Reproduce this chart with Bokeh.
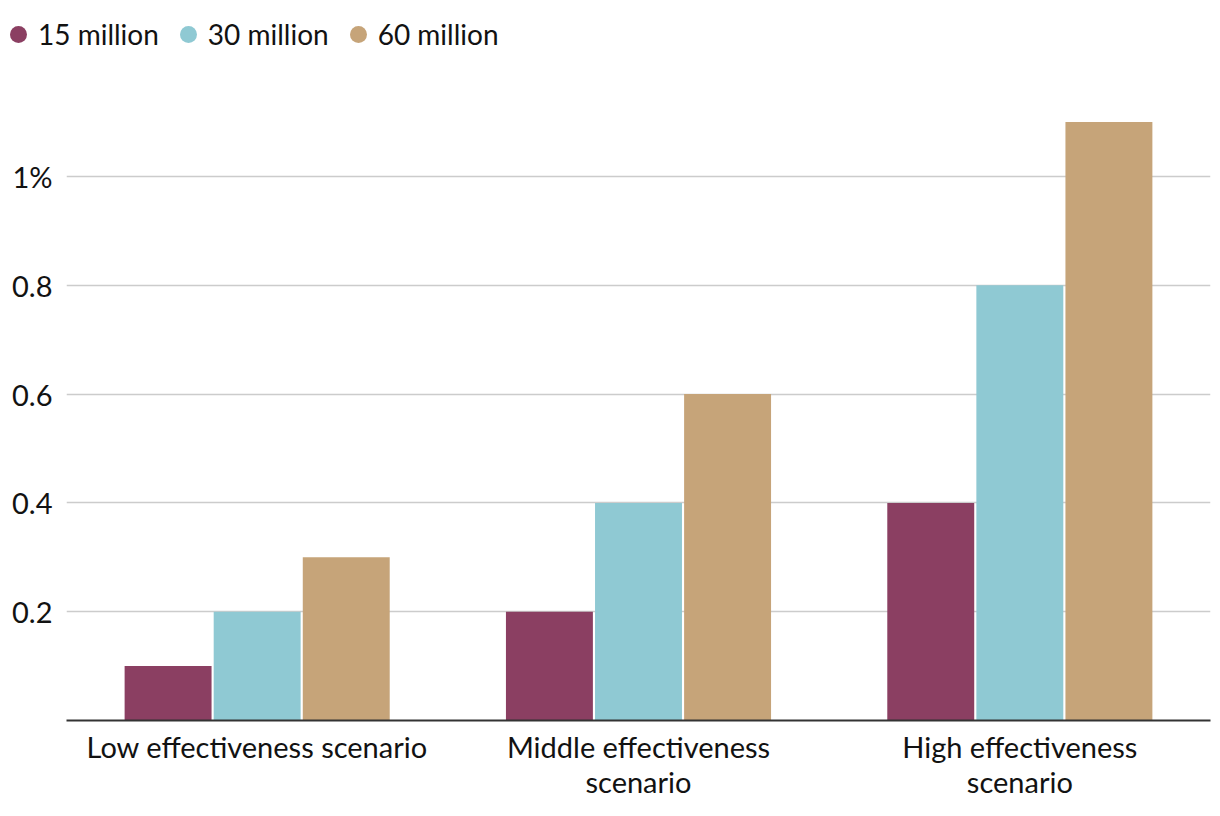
from bokeh.plotting import figure
from bokeh.models import Range1d, FixedTicker, ColumnDataSource, FactorRange, Div
from bokeh.transform import dodge
from bokeh.layouts import column
from bokeh.embed import file_html
from bokeh.resources import INLINE

# ---- data ----
scenarios = ["Low effectiveness scenario",
             "Middle effectiveness\nscenario",
             "High effectiveness\nscenario"]
series = ["15 million", "30 million", "60 million"]
v15 = [0.1, 0.2, 0.4]
v30 = [0.2, 0.4, 0.8]
v60 = [0.3, 0.6, 1.1]
y_ticks = [0.2, 0.4, 0.6, 0.8, 1.0]
y_tick_labels = ["0.2", "0.4", "0.6", "0.8", "1%"]

# ---- style ----
colors = ["#8b3f62", "#8fc9d3", "#c6a479"]
FONT = "Lato"
FSIZE = "29px"
TXT = "#121212"

src = ColumnDataSource(dict(scenario=scenarios, v15=v15, v30=v30, v60=v60))

p = figure(x_range=FactorRange(*scenarios), y_range=Range1d(0, 1.1397),
           width=1212, height=740, output_backend="svg", toolbar_location=None,
           min_border_left=66, min_border_right=2, min_border_top=32,
           min_border_bottom=88)
p.outline_line_color = None
p.background_fill_color = "white"
p.border_fill_color = "white"

bar_w = 0.228
step = 0.2336
for off, col, c in zip([-step, 0, step], ["v15", "v30", "v60"], colors):
    p.vbar(x=dodge("scenario", off, range=p.x_range), top=col, width=bar_w,
           source=src, fill_color=c, line_color=None)

p.xgrid.grid_line_color = None
p.ygrid.ticker = FixedTicker(ticks=y_ticks)
p.ygrid.grid_line_color = "#cccccc"
p.ygrid.grid_line_width = 1.5

p.yaxis.ticker = FixedTicker(ticks=y_ticks)
p.yaxis.major_label_overrides = {t: l for t, l in zip(y_ticks, y_tick_labels)}
p.yaxis.axis_line_color = None
p.yaxis.major_tick_line_color = None
p.yaxis.minor_tick_line_color = None
p.yaxis.major_tick_out = 0
p.yaxis.major_label_standoff = 14
p.yaxis.major_label_text_font = FONT
p.yaxis.major_label_text_font_size = FSIZE
p.yaxis.major_label_text_color = TXT

p.xaxis.axis_line_color = "#333333"
p.xaxis.axis_line_width = 2
p.xaxis.major_tick_line_color = None
p.xaxis.major_tick_out = 0
p.xaxis.major_label_standoff = 8
p.xaxis.major_label_text_font = FONT
p.xaxis.major_label_text_font_size = FSIZE
p.xaxis.major_label_text_color = TXT
p.xaxis.major_label_text_line_height = 1.0

# ---- legend strip above the chart ----
parts = []
for name, c in zip(series, colors):
    parts.append(
        f'<span style="display:inline-block;flex:none;width:17px;height:17px;'
        f'border-radius:50%;background:{c};margin-right:11px;"></span>'
        f'<span style="margin-right:21px;">{name}</span>')
legend_html = ('<div style="display:flex;align-items:center;height:68px;'
               f'padding-left:10px;font-family:{FONT};font-size:28px;color:{TXT};'
               'white-space:nowrap;">' + "".join(parts) + '</div>')
legend_div = Div(text=legend_html, width=1212, height=68, margin=0)

layout = column(legend_div, p, spacing=0)
open("out.html", "w").write(file_html(layout, INLINE))
